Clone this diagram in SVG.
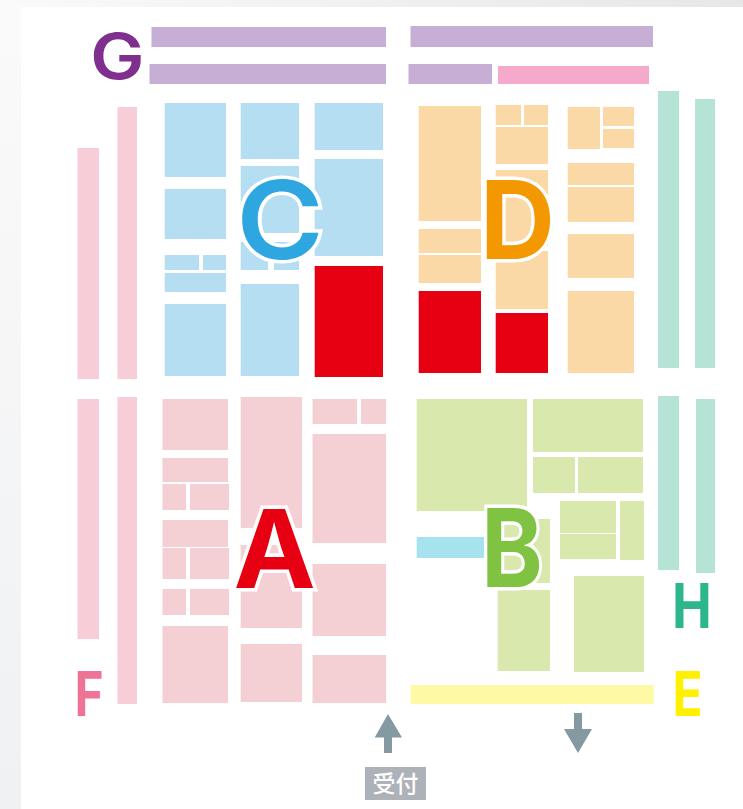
<svg xmlns="http://www.w3.org/2000/svg" width="743" height="809" viewBox="0 0 743 809">
<style>
.p{fill:#c6aed4}.pk{fill:#f7cdd8}.c{fill:#b6def2}.r{fill:#e60012}.o{fill:#fad9a6}.t{fill:#b5e3d6}.a{fill:#f4d0d4}.g{fill:#d9e9ae}
.L{font-family:"Inter","Liberation Sans",sans-serif;font-weight:700;text-anchor:middle}
.big{font-size:108px;stroke:#fff;stroke-width:7px;paint-order:stroke;stroke-linejoin:miter}
.sm{font-size:62px}
</style>
<defs>
<linearGradient id="gt" x1="0" x2="1" y1="0" y2="0"><stop offset="0" stop-color="#fafafa"/><stop offset="1" stop-color="#e6e7e9"/></linearGradient>
<linearGradient id="gl" x1="0" x2="0" y1="0" y2="1"><stop offset="0" stop-color="#fafafa"/><stop offset="1" stop-color="#f0f1f3"/></linearGradient>
</defs>
<rect width="743" height="809" fill="#fff"/>
<rect width="743" height="7" fill="url(#gt)"/>
<rect y="7" width="21" height="802" fill="url(#gl)"/>
<g id="zone-g">
<rect class="p" x="151.500" y="27" width="234.500" height="20"/>
<rect class="p" x="149.500" y="64" width="236.500" height="20"/>
<rect class="p" x="410.500" y="26" width="242.500" height="21"/>
<rect class="p" x="408.500" y="64" width="83.500" height="20"/>
<rect x="498" y="66" width="151" height="18" fill="#f6aacb"/>
<text class="L" transform="translate(117.500 79) scale(1.15 1)" font-size="63" font-weight="600" style="font-weight:600" fill="#7f2f8e">G</text>
</g>
<g id="zone-f">
<rect class="pk" x="77.500" y="148" width="21.500" height="231"/>
<rect class="pk" x="117.500" y="107" width="19.500" height="272"/>
<rect class="pk" x="77.500" y="399" width="21.500" height="240"/>
<rect class="pk" x="117.500" y="397" width="19.500" height="307"/>
<text class="L sm" transform="translate(89 716) scale(.8 1)" fill="#ee7397">F</text>
</g>
<g id="zone-c">
<rect class="c" x="164.700" y="103" width="61.300" height="74"/>
<rect class="c" x="164.700" y="189" width="61.300" height="50"/>
<rect class="c" x="164.700" y="255" width="34.300" height="15"/>
<rect class="c" x="203" y="255" width="23" height="15"/>
<rect class="c" x="164.700" y="273" width="61.300" height="19"/>
<rect class="c" x="164.700" y="304" width="61.300" height="72"/>
<rect class="c" x="240.700" y="103" width="58.300" height="56"/>
<rect class="c" x="240.700" y="166" width="58.300" height="67"/>
<rect class="c" x="240.700" y="242" width="27.300" height="28"/>
<rect class="c" x="274" y="242" width="25" height="28"/>
<rect class="c" x="240.700" y="284" width="58.300" height="92"/>
<rect class="c" x="314.700" y="103" width="68.300" height="47"/>
<rect class="c" x="314.700" y="159" width="68.300" height="97"/>
<rect class="r" x="314.700" y="266" width="68.300" height="111"/>
<text class="L big" transform="translate(280 259) scale(1.1 1)" style="font-weight:600" fill="#2ea7e0">C</text>
</g>
<g id="zone-d">
<rect class="o" x="418.700" y="106" width="62.300" height="115"/>
<rect class="o" x="418.700" y="229" width="62.300" height="24"/>
<rect class="o" x="418.700" y="255" width="62.300" height="28"/>
<rect class="r" x="418.700" y="291" width="62.300" height="82"/>
<rect class="o" x="495.700" y="105" width="25.300" height="20"/>
<rect class="o" x="524" y="105" width="24" height="20"/>
<rect class="o" x="495.700" y="127" width="52.300" height="37"/>
<rect class="o" x="495.700" y="170" width="52.300" height="76"/>
<rect class="o" x="495.700" y="251" width="52.300" height="58"/>
<rect class="r" x="495.700" y="313" width="52.300" height="60"/>
<rect class="o" x="567.700" y="107" width="32.300" height="42"/>
<rect class="o" x="603" y="107" width="31" height="19"/>
<rect class="o" x="603" y="129" width="31" height="19"/>
<rect class="o" x="567.700" y="163" width="66.300" height="22"/>
<rect class="o" x="567.700" y="187" width="66.300" height="35"/>
<rect class="o" x="567.700" y="234" width="66.300" height="44"/>
<rect class="o" x="567.700" y="291" width="66.300" height="82"/>
<text class="L big" transform="translate(517.500 259) scale(.96 1)" fill="#f39800">D</text>
</g>
<g id="zone-h">
<rect class="t" x="658" y="91" width="21" height="277"/>
<rect class="t" x="695" y="99" width="20" height="269"/>
<rect class="t" x="658" y="396" width="21" height="174"/>
<rect class="t" x="696" y="399" width="19" height="174"/>
<text class="L sm" transform="translate(692 628) scale(.86 1)" fill="#2db58c">H</text>
</g>
<g id="zone-a">
<rect class="a" x="162.500" y="399" width="65.500" height="51"/>
<rect class="a" x="162.500" y="458" width="65.500" height="24"/>
<rect class="a" x="162.500" y="484" width="23.500" height="26"/>
<rect class="a" x="190" y="484" width="39" height="26"/>
<rect class="a" x="162.500" y="520" width="65.500" height="27"/>
<rect class="a" x="162.500" y="548" width="23.500" height="31"/>
<rect class="a" x="190" y="548" width="39" height="31"/>
<rect class="a" x="162.500" y="589" width="23.500" height="26"/>
<rect class="a" x="190" y="589" width="39" height="26"/>
<rect class="a" x="162.500" y="626" width="65.500" height="77"/>
<rect class="a" x="240.700" y="397" width="61.300" height="131"/>
<rect class="a" x="240.700" y="545" width="61.300" height="83"/>
<rect class="a" x="240.700" y="644" width="61.300" height="58"/>
<rect class="a" x="312.500" y="399" width="44.500" height="25"/>
<rect class="a" x="361" y="399" width="25" height="25"/>
<rect class="a" x="312.500" y="434" width="73.500" height="109"/>
<rect class="a" x="312.500" y="564" width="73.500" height="72"/>
<rect class="a" x="312.500" y="655" width="73.500" height="48"/>
<text class="L big" transform="translate(274.500 588) scale(1.02 1)" fill="#e60012">A</text>
</g>
<g id="zone-b">
<rect class="g" x="416.700" y="399" width="110.300" height="112"/>
<rect class="g" x="533" y="399" width="110" height="53"/>
<rect class="g" x="533" y="457" width="42" height="36"/>
<rect class="g" x="578" y="457" width="65" height="36"/>
<rect class="g" x="560" y="501" width="56" height="32"/>
<rect class="g" x="560" y="534" width="56" height="25"/>
<rect class="g" x="620" y="501" width="24" height="59"/>
<rect class="g" x="498" y="519" width="52" height="64"/>
<rect class="g" x="497.700" y="590" width="52.300" height="81"/>
<rect class="g" x="574" y="576" width="70" height="96"/>
<rect x="416.700" y="537" width="67.300" height="21" fill="#a6e3ef"/>
<text class="L big" transform="translate(512 587) scale(.86 1)" fill="#80c241">B</text>
</g>
<g id="zone-e">
<rect x="410.700" y="685" width="243" height="19" fill="#fdf9a4"/>
<text class="L sm" transform="translate(687.500 716) scale(.8 1)" fill="#fff000">E</text>
</g>
<g id="connectors">
<polygon points="388,714 402,737.500 392,737.500 392,753 384,753 384,737.500 374.700,737.500" fill="#8499a1"/>
<polygon points="574,713 582,713 582,729 592,729 578,753 564,729 574,729" fill="#8499a1"/>
</g>
<g id="reception">
<rect x="365" y="767" width="61" height="33" fill="#adb1b8"/>
<text x="395.500" y="792" font-size="23" font-weight="500" fill="#fff" text-anchor="middle" font-family="'Noto Sans CJK JP',sans-serif">受付</text>
</g>
</svg>
